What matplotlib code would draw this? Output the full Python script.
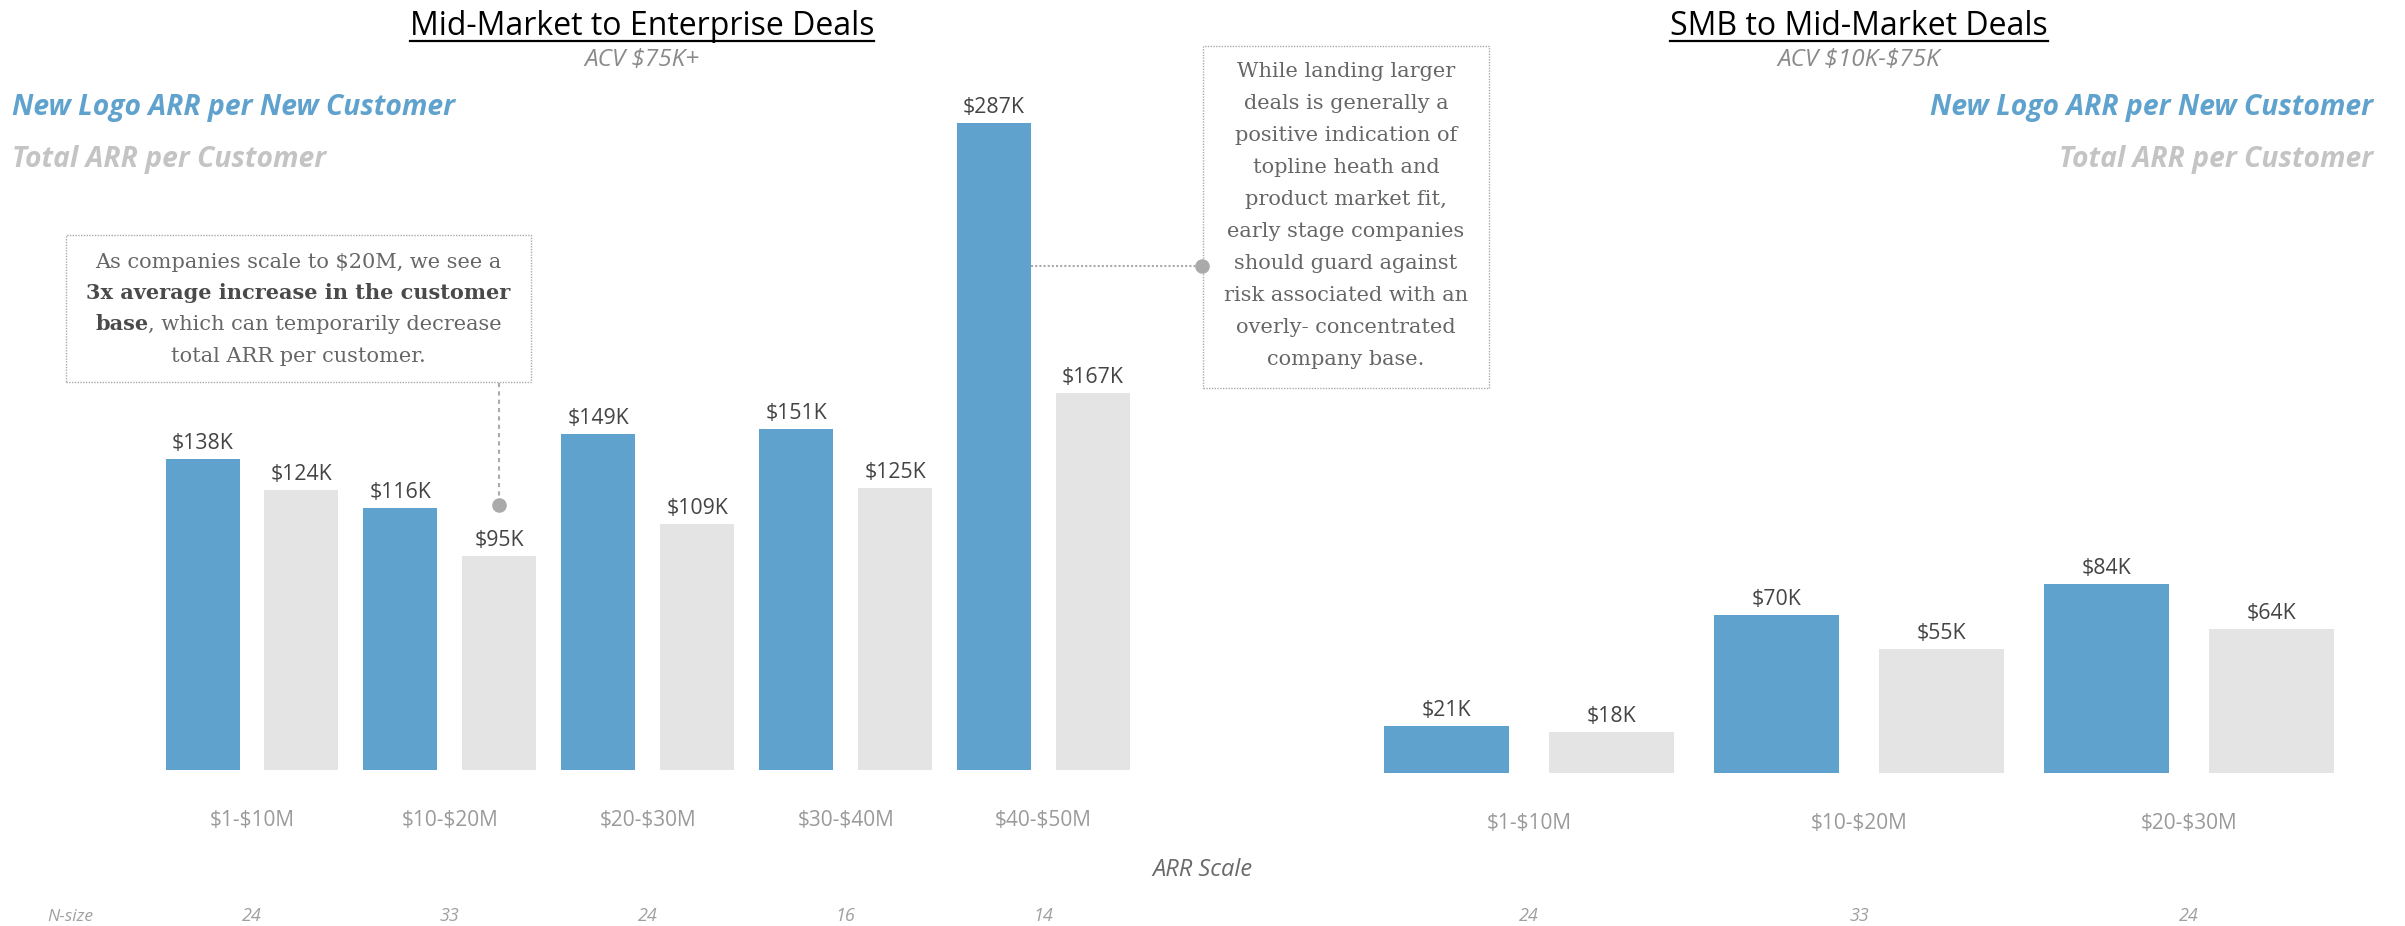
import numpy as np
import matplotlib
matplotlib.use("Agg")
import matplotlib.pyplot as plt
from matplotlib.patches import Rectangle
from matplotlib.lines import Line2D
import matplotlib.transforms as mtransforms

W, H = 2405, 926
plt.rcParams['font.family'] = ['Open Sans', 'DejaVu Sans']
plt.rcParams['text.parse_math'] = False

# Mid-Market to Enterprise (ACV $75K+)
mm_ranges = ["$1-$10M", "$10-$20M", "$20-$30M", "$30-$40M", "$40-$50M"]
mm_new_logo = [138, 116, 149, 151, 287]
mm_total = [124, 95, 109, 125, 167]
mm_nsize = [24, 33, 24, 16, 14]

# SMB to Mid-Market (ACV $10K-$75K)
smb_ranges = ["$1-$10M", "$10-$20M", "$20-$30M"]
smb_new_logo = [21, 70, 84]
smb_total = [18, 55, 64]
smb_nsize = [24, 33, 24]

BLUE = '#5fa2cd'
LIGHT = '#e4e4e4'
LEGEND_GRAY = '#c4c4c4'
PX_PER_K = 2.255

fig = plt.figure(figsize=(W / 100, H / 100), dpi=100)


def fx(x):
    return x / W


def fy(y):
    return 1 - y / H


def px_rect(left, top, right, bottom):
    return [left / W, 1 - bottom / H, (right - left) / W, (bottom - top) / H]


def draw_bars(ax, ranges, new_logo, total, width, base_px):
    x = np.arange(len(ranges))
    b1 = ax.bar(x - 0.25, new_logo, width, color=BLUE)
    b2 = ax.bar(x + 0.25, total, width, color=LIGHT)
    for bars, vals in ((b1, new_logo), (b2, total)):
        for rect, v in zip(bars, vals):
            ax.annotate(f"${v}K", (rect.get_x() + rect.get_width() / 2, v),
                        xytext=(0, 7.2), textcoords='offset points',
                        ha='center', va='baseline', fontsize=15.3, color='#444444')
    ax.set_xlim(-0.5, len(ranges) - 0.5)
    ax.set_ylim(0, base_px / PX_PER_K)
    ax.set_xticks(x, ranges)
    ax.tick_params(axis='x', length=0, pad=29, labelsize=15, labelcolor='#9a9a9a')
    ax.set_yticks([])
    for s in ax.spines.values():
        s.set_visible(False)
    return b1, b2


ax1 = fig.add_axes(px_rect(153.05, 0, 1142.55, 770))
ax2 = fig.add_axes(px_rect(1364, 0, 2354, 773))
mm_bars = draw_bars(ax1, mm_ranges, mm_new_logo, mm_total, 0.374, 770)
draw_bars(ax2, smb_ranges, smb_new_logo, smb_total, 0.377, 773)

r = fig.canvas.get_renderer()

# titles with underline
for cx, title, sub in ((642, "Mid-Market to Enterprise Deals", "ACV $75K+"),
                       (1859, "SMB to Mid-Market Deals", "ACV $10K-$75K")):
    t = fig.text(fx(cx), fy(35), title, ha='center', va='baseline',
                 fontsize=23, color='black')
    bb = t.get_window_extent(r)
    fig.add_artist(Line2D([bb.x0 / W, bb.x1 / W], [fy(40.5), fy(40.5)],
                          transform=fig.transFigure, color='black', lw=1.6))
    fig.text(fx(cx), fy(65.5), sub, ha='center', va='baseline', fontsize=17.5,
             style='italic', color='#8a8a8a')

# legends on both sides
for x, ha in ((12, 'left'), (2373, 'right')):
    fig.text(fx(x), fy(115), "New Logo ARR per New Customer", ha=ha, va='baseline',
             fontsize=20.3, weight='bold', style='italic', color=BLUE)
    fig.text(fx(x), fy(167), "Total ARR per Customer", ha=ha, va='baseline',
             fontsize=20.3, weight='bold', style='italic', color=LEGEND_GRAY)

# axis title and n-size row
fig.text(fx(1202), fy(876), "ARR Scale", ha='center', va='baseline', fontsize=17,
         style='italic', color='#6a6a6a')
fig.text(fx(47), fy(921), "N-size", ha='left', va='baseline', fontsize=12.5,
         style='italic', color='#a0a0a0')
for ax, ns in ((ax1, mm_nsize), (ax2, smb_nsize)):
    trans = mtransforms.blended_transform_factory(ax.transData, fig.transFigure)
    for i, n in enumerate(ns):
        fig.text(i, fy(921), str(n), transform=trans, ha='center', va='baseline',
                 fontsize=13, style='italic', color='#a0a0a0')

SERIF = ['DejaVu Serif']
SERIF_SIZE = 15
TXT = '#666666'
BOLD_TXT = '#4a4a4a'
box_style = dict(transform=fig.transFigure, fill=False, edgecolor='#aaaaaa',
                 lw=1.0, linestyle=(0, (1, 1)))

# callout 1
fig.add_artist(Rectangle((fx(66), fy(382)), (530.7 - 66) / W, (382 - 235) / H, **box_style))
cx1 = 298.4
fig.text(fx(cx1), fy(268.3), "As companies scale to $20M, we see a", ha='center',
         va='baseline', fontsize=SERIF_SIZE, family=SERIF, color=TXT)
fig.text(fx(cx1), fy(299.4), "3x average increase in the customer", ha='center',
         va='baseline', fontsize=SERIF_SIZE, family=SERIF, color=BOLD_TXT, weight='bold')
tb = fig.text(0, 0, "base", ha='left', va='baseline', fontsize=SERIF_SIZE, family=SERIF,
              color=BOLD_TXT, weight='bold')
tr = fig.text(0, 0, ", which can temporarily decrease", ha='left', va='baseline',
              fontsize=SERIF_SIZE, family=SERIF, color=TXT)
wb = tb.get_window_extent(r).width
wr = tr.get_window_extent(r).width
start = cx1 - (wb + wr) / 2
tb.set_position((fx(start), fy(330.5)))
tr.set_position((fx(start + wb), fy(330.5)))
fig.text(fx(cx1), fy(361.7), "total ARR per customer.", ha='center',
         va='baseline', fontsize=SERIF_SIZE, family=SERIF, color=TXT)

# connector from callout 1 to the $95K bar
x95 = ax1.transData.transform((1 + 0.25, 0))[0]
fig.add_artist(Line2D([fx(x95), fx(x95)], [fy(383), fy(505)], transform=fig.transFigure,
                      color='#aaaaaa', lw=1.5, linestyle=(0, (2, 2))))
fig.add_artist(Line2D([fx(x95)], [fy(505)], transform=fig.transFigure, marker='o',
                      markersize=10.5, color='#aaaaaa', markeredgewidth=0))

# callout 2
fig.add_artist(Rectangle((fx(1203), fy(388.3)), (1489.4 - 1203) / W, (388.3 - 45.7) / H,
                         **box_style))
lines2 = ["While landing larger", "deals is generally a", "positive indication of",
          "topline heath and", "product market fit,", "early stage companies",
          "should guard against", "risk associated with an", "overly- concentrated",
          "company base."]
for i, line in enumerate(lines2):
    fig.text(fx(1346), fy(77 + 32 * i), line, ha='center', va='baseline',
             fontsize=SERIF_SIZE, family=SERIF, color=TXT)

# connector from the $287K bar to callout 2
rect287 = mm_bars[0][4]
x_edge = ax1.transData.transform((rect287.get_x() + rect287.get_width(), 0))[0]
fig.add_artist(Line2D([fx(x_edge), fx(1202)], [fy(266), fy(266)], transform=fig.transFigure,
                      color='#aaaaaa', lw=1.5, linestyle=(0, (1, 1))))
fig.add_artist(Line2D([fx(1202)], [fy(266)], transform=fig.transFigure, marker='o',
                      markersize=10.5, color='#aaaaaa', markeredgewidth=0))

fig.savefig("out.png", dpi=100)
